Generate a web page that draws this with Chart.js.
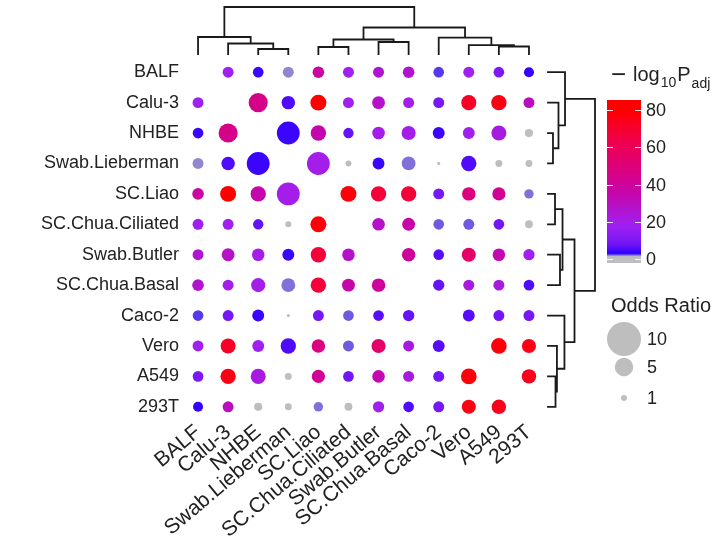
<!DOCTYPE html>
<html><head><meta charset="utf-8">
<script src="https://cdn.jsdelivr.net/npm/chart.js@4"></script>
<style>html,body{margin:0;padding:0;background:#fff}</style>
</head><body>
<canvas id="c" width="715" height="548" style="width:715px;height:548px;display:block"></canvas>
<script>
// ---------- data ----------
const samples = ["BALF","Calu-3","NHBE","Swab.Lieberman","SC.Liao","SC.Chua.Ciliated","Swab.Butler","SC.Chua.Basal","Caco-2","Vero","A549","293T"];

// -log10(P adj), rows/cols in sample order (diagonal empty)
const negLog10Padj = [
  [null,18,4,1.8,38,18,26,26,2.5,18,10,3.5],
  [18,null,45,5.5,80,18,28,20,9,72,76,30],
  [4,45,null,4,35,7,20,20,4,18,22,0.5],
  [1.8,5.5,4,null,20,0.5,4,2,0.3,5.5,0.5,0.5],
  [38,80,35,20,null,78,68,68,9,48,42,2],
  [18,18,7,0.5,78,null,28,36,2.2,2.2,8,0.5],
  [26,28,20,4,68,28,null,40,6,55,34,18],
  [26,20,20,2,68,36,40,null,7,22,22,5.5],
  [2.5,9,4,0.3,9,2.2,6,7,null,6,8,9],
  [18,72,18,5.5,48,2.2,55,22,6,null,78,76],
  [10,76,22,0.5,42,8,34,22,8,78,null,74],
  [3.5,30,0.5,0.5,2,0.5,18,5.5,9,76,74,null]
];

// odds ratio
const oddsRatio = [
  [null,2.6,2.5,2.6,2.8,2.6,2.6,2.8,2.5,2.6,2.5,2.3],
  [2.6,null,5.2,3.4,4.2,2.6,3.2,2.6,2.6,3.9,4.0,2.6],
  [2.5,5.2,null,6.4,4.0,2.4,3.1,3.6,2.9,2.9,3.9,1.7],
  [2.6,3.4,6.4,null,6.4,1.0,2.9,3.5,0.1,4.0,1.3,1.3],
  [2.8,4.2,4.0,6.4,null,4.2,4.0,4.0,2.6,3.4,3.3,2.1],
  [2.6,2.6,2.4,1.0,4.2,null,3.1,3.2,2.5,2.6,2.5,1.6],
  [2.6,3.2,3.1,2.9,4.0,3.1,null,3.4,2.5,3.6,3.1,2.7],
  [2.8,2.6,3.6,3.5,4.0,3.2,3.4,null,2.7,2.6,2.6,2.5],
  [2.5,2.6,2.9,0.1,2.6,2.5,2.5,2.7,null,2.9,2.6,2.6],
  [2.6,3.9,2.9,4.0,3.4,2.6,3.6,2.6,2.9,null,4.1,3.6],
  [2.5,4.0,3.9,1.3,3.3,2.5,3.1,2.6,2.6,4.1,null,3.7],
  [2.3,2.6,1.7,1.3,2.1,1.6,2.7,2.5,2.6,3.6,3.7,null]
];

const colorbarTicks = [0,20,40,60,80];
const oddsLegendValues = [10,5,1];

// hierarchical clustering (hclust style: negative = leaf index+1, positive = earlier merge)
const dendroMerges = [[-3,-4],[-2,1],[-1,2],[-5,-6],[-7,-8],[4,5],[-11,-12],[-10,7],[-9,8],[6,9],[3,10]];
const dendroHeights = [0.106,0.223,0.362,0.149,0.255,0.309,0.16,0.19,0.35,0.564,1.0];

// ---------- encodings ----------
function radiusFor(or){ return Math.max(1, 1.56*or + 1.44); }
const colorStops = [
  [1.3,[190,190,190]],[3,[45,0,255]],[8,[115,22,245]],[18,[160,32,240]],
  [35,[196,6,172]],[50,[222,0,120]],[65,[242,0,70]],[80,[255,0,0]]
];
function colorFor(v){
  if (v <= colorStops[0][0]) return 'rgb(190,190,190)';
  for (let k=1;k<colorStops.length;k++){
    const [v1,c1]=colorStops[k];
    if (v <= v1){
      const [v0,c0]=colorStops[k-1];
      const t=(v-v0)/(v1-v0);
      return 'rgb('+c0.map((c,i)=>Math.round(c+(c1[i]-c)*t)).join(',')+')';
    }
  }
  return 'rgb(255,0,0)';
}

const points = [];
samples.forEach((rowName,i)=>{
  samples.forEach((colName,j)=>{
    const p = negLog10Padj[i][j];
    if (p === null) return;
    points.push({x: colName, y: rowName, r: radiusFor(oddsRatio[i][j]), v: p});
  });
});

const FONT = '"Liberation Sans", Arial, Helvetica, sans-serif';
Chart.defaults.font.family = FONT;

const extras = {
  id: 'extras',
  afterDraw(chart){
    const ctx = chart.ctx;
    const xs = chart.scales.x, ys = chart.scales.y;
    const xPos = samples.map((_,i)=>xs.getPixelForValue(i));
    const yPos = samples.map((_,i)=>ys.getPixelForValue(i));
    ctx.save();
    ctx.strokeStyle = '#1a1a1a';
    ctx.lineWidth = 1.8;
    ctx.lineCap = 'square';
    const topBase = chart.chartArea.top - 3, rightBase = chart.chartArea.right + 4, span = 47;
    function dendro(pos, map){
      const nodes = [];
      const get = id => id<0 ? {p: pos[-id-1], h:0} : nodes[id-1];
      ctx.beginPath();
      dendroMerges.forEach((m,k)=>{
        const a=get(m[0]), b=get(m[1]), h=dendroHeights[k];
        const seg=(p1,h1,p2,h2)=>{const A=map(p1,h1),B=map(p2,h2);ctx.moveTo(A[0],A[1]);ctx.lineTo(B[0],B[1]);};
        seg(a.p,a.h,a.p,h); seg(b.p,b.h,b.p,h); seg(a.p,h,b.p,h);
        nodes.push({p:(a.p+b.p)/2, h});
      });
      ctx.stroke();
    }
    dendro(xPos, (p,h)=>[p, topBase - h*span]);
    dendro(yPos, (p,h)=>[rightBase + h*span, p]);

    // colour bar legend
    const bx=607, bw=34, yTop=100, yBot=263, y0=259, pxPer=1.8625;
    for (let y=yTop; y<yBot; y++){
      ctx.fillStyle = colorFor((y0 - y - 0.5)/pxPer);
      ctx.fillRect(bx, y, bw, 1);
    }
    ctx.strokeStyle = 'rgba(255,255,255,0.9)';
    ctx.lineWidth = 1;
    ctx.lineCap = 'butt';
    ctx.fillStyle = '#222';
    ctx.font = '18px ' + FONT;
    ctx.textBaseline = 'middle';
    ctx.textAlign = 'left';
    colorbarTicks.forEach(t=>{
      const y = Math.round(y0 - t*pxPer) + 0.5;
      ctx.beginPath();
      ctx.moveTo(bx, y); ctx.lineTo(bx+6, y);
      ctx.moveTo(bx+bw-6, y); ctx.lineTo(bx+bw, y);
      ctx.stroke();
      ctx.fillText(String(t), bx+bw+5, y+1);
    });
    // title  − log10 P adj
    ctx.textBaseline = 'alphabetic';
    ctx.font = '26px ' + FONT;
    ctx.fillText('\u2212', 611, 83);
    ctx.font = '20px ' + FONT;
    ctx.fillText('log', 633, 81);
    let x = 633 + ctx.measureText('log').width + 1;
    ctx.font = '14px ' + FONT;
    ctx.fillText('10', x, 87);
    x += ctx.measureText('10').width + 1;
    ctx.font = '20px ' + FONT;
    ctx.fillText('P', x, 81);
    x += ctx.measureText('P').width + 1;
    ctx.font = '14px ' + FONT;
    ctx.fillText('adj', x, 88);

    // odds ratio legend
    ctx.font = '20px ' + FONT;
    ctx.fillText('Odds Ratio', 611, 312);
    const oy = [339, 367, 398];
    ctx.font = '18px ' + FONT;
    ctx.textBaseline = 'middle';
    oddsLegendValues.forEach((v,k)=>{
      ctx.fillStyle = '#bebebe';
      ctx.beginPath();
      ctx.arc(624, oy[k], radiusFor(v), 0, Math.PI*2);
      ctx.fill();
      ctx.fillStyle = '#222';
      ctx.fillText(String(v), 647, oy[k]+1);
    });
    ctx.restore();
  }
};

new Chart(document.getElementById('c'), {
  type: 'bubble',
  data: { datasets: [{ data: points, borderWidth: 0,
    backgroundColor: c => c.raw ? colorFor(c.raw.v) : '#bebebe' }] },
  options: {
    responsive: false, animation: false, devicePixelRatio: 1,
    layout: { padding: { top: 57, right: 171, left: 0, bottom: 0 } },
    plugins: { legend: { display: false }, tooltip: { enabled: false } },
    events: [],
    scales: {
      x: { type: 'category', labels: samples, offset: true,
           grid: { display: false, drawTicks: false }, border: { display: false },
           ticks: { autoSkip: false, maxRotation: 40, minRotation: 40, padding: -2,
                    color: '#222', font: { size: 21 } },
           afterFit: s => { s.height = 126; } },
      y: { type: 'category', labels: samples, offset: true,
           grid: { display: false, drawTicks: false }, border: { display: false },
           ticks: { autoSkip: false, padding: 4, color: '#222', font: { size: 18 } },
           afterFit: s => { s.width = 183; } }
    }
  },
  plugins: [extras]
});
</script>
</body></html>
